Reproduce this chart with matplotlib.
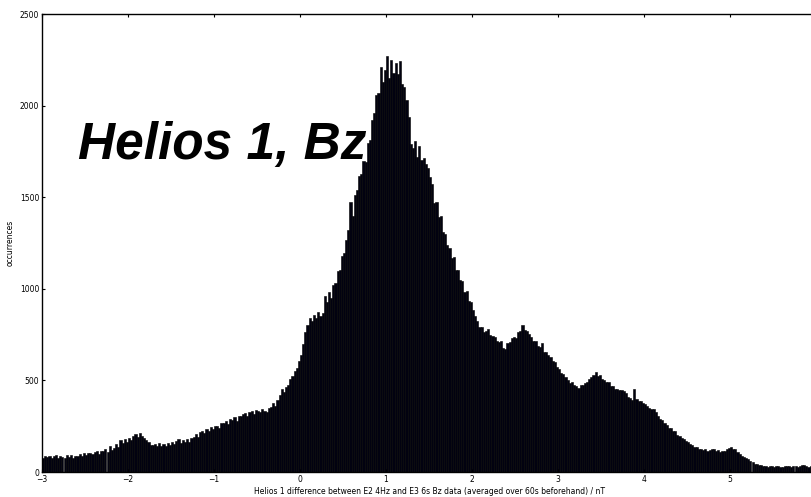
import numpy as np
import matplotlib
matplotlib.use("Agg")
import matplotlib.pyplot as plt

# histogram counts, bin width 0.025 nT, one list per unit interval
bin_width = 0.025
x_start = -3.0
c_m3 = [78, 88, 80, 90, 77, 86, 93, 76, 88, 81, 79, 91,
        82, 92, 75, 88,
        90, 99, 86, 102, 92, 104,
        101, 96, 111, 114, 100, 113,
        116, 128, 110, 140, 118, 131,
        151, 136, 175, 157, 180, 165]
c_m2 = [185, 172, 199, 206, 190, 214, 196, 188, 176, 166, 150, 149,
        153, 140, 158, 144, 154, 142, 161, 146, 166, 152,
        171, 179, 159, 174, 163, 178, 162, 184,
        190, 209, 193, 218, 225, 211, 235, 222, 243, 233]
c_m1 = [249, 252, 240, 266, 266, 280, 260, 288, 285, 300, 278, 306,
        303, 318, 322, 308, 328, 333, 318, 340,
        331, 325, 345, 333, 328, 349,
        357, 376, 362, 392, 420, 452, 436, 466,
        474, 510, 526, 552, 568, 605]
c_0 = [640, 700, 765, 800, 838, 826, 858, 842, 872, 850,
       866, 962, 930, 985, 948, 1020, 1030, 1095, 1105, 1180,
       1195, 1265, 1320, 1475, 1400, 1510, 1540, 1615, 1625, 1700,
       1690, 1795, 1810, 1920, 1960, 2060, 2070, 2210, 2130, 2195]
c_1 = [2270, 2150, 2250, 2180, 2230, 2170, 2245, 2120, 2100, 2030,
       1940, 1790, 1770, 1805, 1720, 1780, 1705, 1715, 1680, 1660,
       1610, 1570, 1470, 1475, 1390, 1395, 1310, 1300, 1240, 1225,
       1170, 1175, 1105, 1100, 1050, 1045, 980, 990, 935, 930]
c_2 = [885, 852, 826, 790, 792, 765, 770, 782, 748, 745,
       738, 716, 708, 716, 676, 672, 704, 712, 730, 736,
       732, 765, 768, 805, 776, 770, 755, 738, 716, 714,
       686, 684, 705, 655, 654, 636, 628, 606, 598, 572]
c_3 = [563, 542, 534, 516, 503, 487, 491, 477, 472, 460,
       473, 475, 488, 492, 508, 517, 530, 548, 526, 528,
       507, 503, 492, 491, 472, 468, 455, 453, 449, 448,
       444, 433, 408, 403, 392, 452, 398, 388, 390, 377]
c_4 = [370, 358, 352, 343, 342, 328, 307, 290, 284, 268,
       257, 238, 238, 226, 222, 203, 197, 186, 180, 170,
       162, 153, 147, 138, 134, 126, 128, 120, 126, 116,
       122, 124, 124, 114, 120, 110, 112, 112, 127, 130]
c_5 = [136, 126, 128, 108, 97, 88, 82, 74, 70, 60,
       54, 46, 43, 37, 37, 32,
       35, 30, 34, 34, 29, 33, 35, 30, 28, 34, 31, 31,
       30, 35, 32, 28, 33, 37, 37, 34, 30, 31, 28, 32]

counts = np.array(c_m3 + c_m2 + c_m1 + c_0 + c_1 + c_2 + c_3 + c_4 + c_5, dtype=float)
edges = x_start + bin_width * np.arange(len(counts) + 1)
centers = 0.5 * (edges[:-1] + edges[1:])

fig = plt.figure(figsize=(8.12, 4.97), dpi=100)
ax = fig.add_axes([42 / 812, 25 / 497, 774 / 812, 458 / 497])

ax.hist(centers, bins=edges, weights=counts, facecolor='#020210',
        edgecolor='black', linewidth=0.4)

ax.set_xlim(-3, 6)
ax.set_ylim(0, 2500)
ax.set_xticks(np.arange(-3, 6, 1))
ax.set_yticks(np.arange(0, 2501, 500))
ax.tick_params(direction='in', top=True, right=True, length=2.5,
               width=0.8, labelsize=5.5, pad=2)
for s in ax.spines.values():
    s.set_linewidth(1.0)

ax.set_xlabel('Helios 1 difference between E2 4Hz and E3 6s Bz data '
              '(averaged over 60s beforehand) / nT', fontsize=5.5, labelpad=2)
ax.set_ylabel('occurrences', fontsize=5.5, labelpad=4)

fig.text(78 / 812, (497 - 159) / 497, 'Helios 1, Bz', fontsize=37,
         fontweight='bold', fontstyle='italic', family='Liberation Sans',
         ha='left', va='baseline')

plt.savefig('out.png', dpi=100)
